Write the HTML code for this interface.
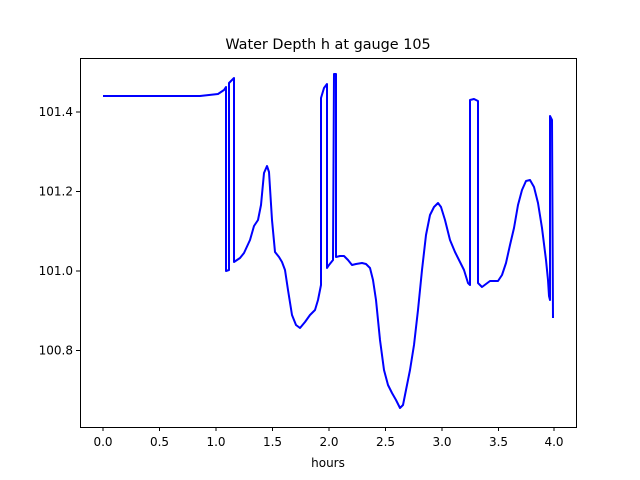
<!DOCTYPE html>
<html><head><style>body{margin:0;background:#fff}svg{display:block}text{font-family:"DejaVu Sans","Liberation Sans",sans-serif;font-size:12px;fill:#000}</style></head><body>
<svg width="640" height="480" viewBox="0 0 640 480">
<rect width="640" height="480" fill="#fff"/>
<text x="328" y="49" text-anchor="middle" style="font-size:14.4px">Water Depth h at gauge 105</text>
<polyline fill="none" stroke="#00f" stroke-width="2" stroke-linejoin="round" points="103,96 200,96 218,94 224,90 226,87 226,271 229,270 229,83 234,78 234,262 240,258 244,253 250,240 254,226 258,220 261,205 264,173 267,166 269,172 272,220 275,252 279,257 282,262 285,270 288,290 292,315 296,325 300,328 305,322 310,315 315,310 318,300 321,285 321,98 324,88 327,84 327,268 329,265 333,260 334,74 336,74 336,257 340,256 344,256 348,260 352,265 356,264 362,263 366,264 370,268 373,280 376,300 380,340 384,370 388,385 392,393 396,400 400,408 403,405 406,390 410,370 414,345 418,310 422,270 426,235 430,215 434,207 438,203 441,207 445,220 450,240 455,252 460,262 464,270 468,283 470,285 470,100 474,99 478,101 478,283 482,287 486,284 490,281 494,281 498,281 502,275 506,263 510,245 514,228 518,205 522,190 526,181 530,180 534,187 538,203 542,228 546,260 548,280 549,296 550,300 550,116 552,120 553,318"/>
<rect x="80.5" y="58.5" width="496" height="369" fill="none" stroke="#000" stroke-width="1"/>
<g stroke="#000">
<line x1="103" y1="427" x2="103" y2="431"/><line x1="159.5" y1="427" x2="159.5" y2="431"/><line x1="216" y1="427" x2="216" y2="431"/><line x1="272.5" y1="427" x2="272.5" y2="431"/><line x1="329" y1="427" x2="329" y2="431"/><line x1="385.5" y1="427" x2="385.5" y2="431"/><line x1="442" y1="427" x2="442" y2="431"/><line x1="498.5" y1="427" x2="498.5" y2="431"/><line x1="554" y1="427" x2="554" y2="431"/>
<line x1="76" y1="112" x2="80" y2="112"/><line x1="76" y1="191.5" x2="80" y2="191.5"/><line x1="76" y1="271" x2="80" y2="271"/><line x1="76" y1="350.5" x2="80" y2="350.5"/>
</g>
<g text-anchor="middle">
<text x="103" y="446">0.0</text><text x="159.5" y="446">0.5</text><text x="216" y="446">1.0</text><text x="272.5" y="446">1.5</text><text x="329" y="446">2.0</text><text x="385.5" y="446">2.5</text><text x="442" y="446">3.0</text><text x="498.5" y="446">3.5</text><text x="554" y="446">4.0</text>
<text x="328" y="467">hours</text>
</g>
<g text-anchor="end">
<text x="73" y="116">101.4</text><text x="73" y="195.5">101.2</text><text x="73" y="275">101.0</text><text x="73" y="354.5">100.8</text>
</g>
</svg>
</body></html>
